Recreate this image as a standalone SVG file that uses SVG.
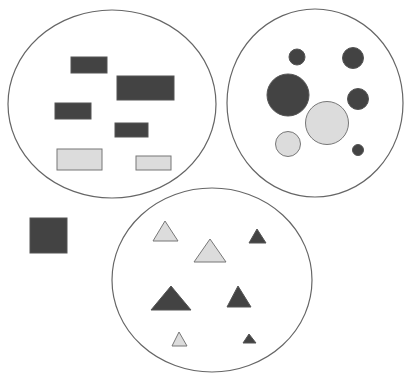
<svg xmlns="http://www.w3.org/2000/svg" width="406" height="373" viewBox="0 0 406 373">
<style>
.set{fill:none;stroke:#666;stroke-width:1.2}
.d{fill:#434343;stroke:#555;stroke-width:1}
.l{fill:#dcdcdc;stroke:#777;stroke-width:1}
</style>
<rect width="406" height="373" fill="#fff"/>
<g id="set-rectangles">
<ellipse class="set" cx="112" cy="104" rx="104" ry="94"/>
<rect class="d" x="71" y="57" width="36" height="16"/>
<rect class="d" x="117" y="76" width="57" height="24"/>
<rect class="d" x="55" y="103" width="36" height="16"/>
<rect class="d" x="115" y="123" width="33" height="14"/>
<rect class="l" x="57" y="149" width="45" height="21"/>
<rect class="l" x="136" y="156" width="35" height="14"/>
</g>
<g id="set-circles">
<ellipse class="set" cx="315" cy="103" rx="88" ry="94"/>
<circle class="d" cx="297" cy="57" r="8"/>
<circle class="d" cx="353" cy="58" r="10.5"/>
<circle class="d" cx="288" cy="95" r="21"/>
<circle class="d" cx="358" cy="99" r="10.5"/>
<circle class="l" cx="327" cy="123" r="21.5"/>
<circle class="l" cx="288" cy="144" r="12.5"/>
<circle class="d" cx="358" cy="150" r="5.5"/>
</g>
<g id="square">
<rect class="d" x="30" y="218" width="37" height="35"/>
</g>
<g id="set-triangles">
<ellipse class="set" cx="212" cy="280" rx="100" ry="92"/>
<polygon class="l" points="165,221 178,241 153,241"/>
<polygon class="l" points="210,239 226,262 194,262"/>
<polygon class="d" points="257,229 266,243 249,243"/>
<polygon class="d" points="171,286 191,310 151,310"/>
<polygon class="d" points="238,286 251,307 227,307"/>
<polygon class="l" points="179,332 187,346 172,346"/>
<polygon class="d" points="249,334 256,343 243,343"/>
</g>
<g id="connectors"></g>
</svg>
